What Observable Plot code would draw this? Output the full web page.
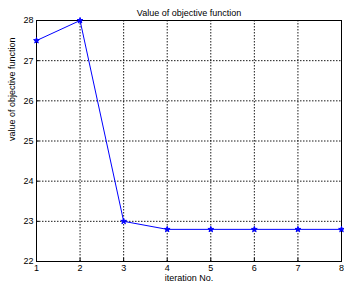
<!DOCTYPE html>
<html><head><meta charset="utf-8">
<script src="https://cdn.jsdelivr.net/npm/d3@7"></script>
<script src="https://cdn.jsdelivr.net/npm/@observablehq/plot@0.6"></script>
<style>body{margin:0;background:#fff;} svg{font-family:"Liberation Sans",Arial,sans-serif;}</style>
</head><body><div id="chart"></div>
<script>
const iterations = [1, 2, 3, 4, 5, 6, 7, 8];
const objective = [27.5, 28, 23, 22.8, 22.8, 22.8, 22.8, 22.8];
const xTicks = [1, 2, 3, 4, 5, 6, 7, 8];
const yTicks = [22, 23, 24, 25, 26, 27, 28];
const title = "Value of objective function";
const xLabel = "iteration No.";
const yLabel = "value of objective function";

const data = iterations.map((x, i) => ({x, y: objective[i]}));

const chart = Plot.plot({
  width: 344, height: 289,
  marginLeft: 36, marginRight: 3, marginTop: 20, marginBottom: 28,
  style: {fontSize: "9px", fontFamily: "Liberation Sans, Arial, sans-serif", color: "#000", background: "#fff"},
  x: {domain: [1, 8]},
  y: {domain: [22, 28]},
  marks: [
    Plot.gridX(xTicks, {stroke: "#000", strokeOpacity: 1, strokeDasharray: "1.5,1.5", strokeWidth: 0.9}),
    Plot.gridY(yTicks, {stroke: "#000", strokeOpacity: 1, strokeDasharray: "1.5,1.5", strokeWidth: 0.9}),
    Plot.frame({stroke: "#000", strokeWidth: 1}),
    Plot.axisX(xTicks, {tickSize: -3, tickPadding: 6, label: null, fontSize: 9}),
    Plot.axisY(yTicks, {tickSize: -3, tickPadding: 6, label: null, fontSize: 9}),
    Plot.text([xLabel], {frameAnchor: "bottom", dy: 19, fontSize: 9}),
    Plot.text([yLabel], {frameAnchor: "left", dx: -24, rotate: -90, fontSize: 9}),
    Plot.text([title], {frameAnchor: "top", dy: -11, fontSize: 9}),
    Plot.line(data, {x: "x", y: "y", stroke: "#0000ff", strokeWidth: 1}),
    Plot.dot(data, {x: "x", y: "y", symbol: "star", r: 1.8, fill: "#0000ff", stroke: "#0000ff", strokeWidth: 1})
  ]
});
document.getElementById("chart").appendChild(chart);
</script></body></html>
